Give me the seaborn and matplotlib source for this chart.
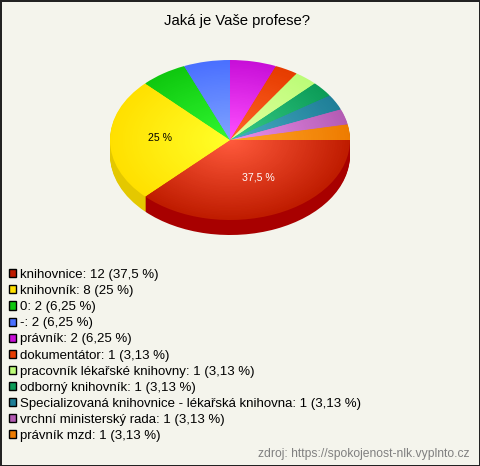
import matplotlib
matplotlib.use("Agg")
import matplotlib.pyplot as plt
import seaborn as sns

labels = ["knihovnice", "knihovník", "0", "-", "právník", "dokumentátor",
          "pracovník lékařské knihovny", "odborný knihovník",
          "Specializovaná knihovnice - lékařská knihovna",
          "vrchní ministerský rada", "právník mzd"]
values = [12, 8, 2, 2, 2, 1, 1, 1, 1, 1, 1]
percents = ["37,5", "25", "6,25", "6,25", "6,25", "3,13", "3,13", "3,13", "3,13", "3,13", "3,13"]

# barva u okraje, barva u stredu, barva boku
edge_colors = ["#bf1c00", "#ffe000", "#0fc80f", "#4a70ff", "#c80fd8", "#e63c00",
               "#bcfc78", "#0c9c58", "#1f7f98", "#b45cb4", "#ee7c00"]
light_colors = ["#ff5a3c", "#ffff28", "#30f830", "#80a4ff", "#ff50ff", "#ff6428",
                "#e4ffa0", "#38cc88", "#48acc4", "#ec90ec", "#ffa428"]
side_colors = ["#a80000", "#e4c800", "#0a9c0a", "#3858c8", "#a000a8", "#b83000",
               "#98c860", "#087c44", "#186478", "#904890", "#c06000"]

BG = "#f4f4ec"
CX, CY = 230, 140   # stred kolace v pixelech
RX, RY = 120, 80
DEPTH = 15
LAYERS = 50

sns.set_theme(style="white")
plt.rcParams["font.family"] = ["Liberation Sans", "DejaVu Sans"]

fig = plt.figure(figsize=(4.8, 4.66), dpi=100, facecolor=BG, edgecolor="#222222", linewidth=2)
ax = fig.add_axes([0, 0, 1, 1])
ax.set_facecolor("none")

pie_args = dict(startangle=0, counterclock=False, wedgeprops=dict(linewidth=0))

# bok kolace
for i in range(DEPTH, 0, -1):
    ax.pie(values, colors=side_colors, radius=1, center=(0, -i / RY), **pie_args)

# horni plocha s radialnim prechodem
ramps = [sns.blend_palette([e, l], n_colors=LAYERS) for e, l in zip(edge_colors, light_colors)]
for k in range(LAYERS):
    layer = [r[k] for r in ramps]
    ax.pie(values, colors=layer, radius=1 - k / LAYERS, **pie_args)

# popisky jen u velkych vyseci
pct_text = iter(["37,5 %", "25 %"] + [""] * 9)
_, _, auto = ax.pie(values, colors=["none"] * len(values), autopct=lambda p: next(pct_text),
                    pctdistance=0.58, textprops=dict(fontsize=7.6), **pie_args)
auto[0].set_color("white")
auto[1].set_color("black")
# mirne posunuti popisku nahoru
auto[0].set_x(auto[0].get_position()[0] + 2 / RX)
auto[0].set_y(auto[0].get_position()[1] + 5 / RY)
auto[1].set_y(auto[1].get_position()[1] + 2 / RY)

ax.set_aspect("auto")
ax.set_xlim(-CX / RX, (480 - CX) / RX)
ax.set_ylim((CY - 466) / RY, CY / RY)
ax.axis("off")

fig.text(237 / 480, 1 - 20.5 / 466, "Jaká je Vaše profese?", ha="center", va="center", fontsize=10.7, color="black")

legend_labels = [f"{n}: {v} ({p} %)" for n, v, p in zip(labels, values, percents)]
handles = [plt.Rectangle((0, 0), 1, 1, facecolor=c, edgecolor="black", linewidth=1) for c in edge_colors]
fig.legend(handles, legend_labels, loc="upper left", bbox_to_anchor=(9 / 480, 1 - 269 / 466),
           frameon=False, fontsize=9.55, labelcolor="black", handlelength=0.56, handleheight=0.56,
           handletextpad=0.27, labelspacing=0.31, borderpad=0, borderaxespad=0)

fig.text(470 / 480, 1 - 453.5 / 466, "zdroj: https://spokojenost-nlk.vyplnto.cz", ha="right", va="center",
         fontsize=8.7, color="#808080")

fig.savefig("out.png", dpi=100, facecolor=fig.get_facecolor(), edgecolor=fig.get_edgecolor())
